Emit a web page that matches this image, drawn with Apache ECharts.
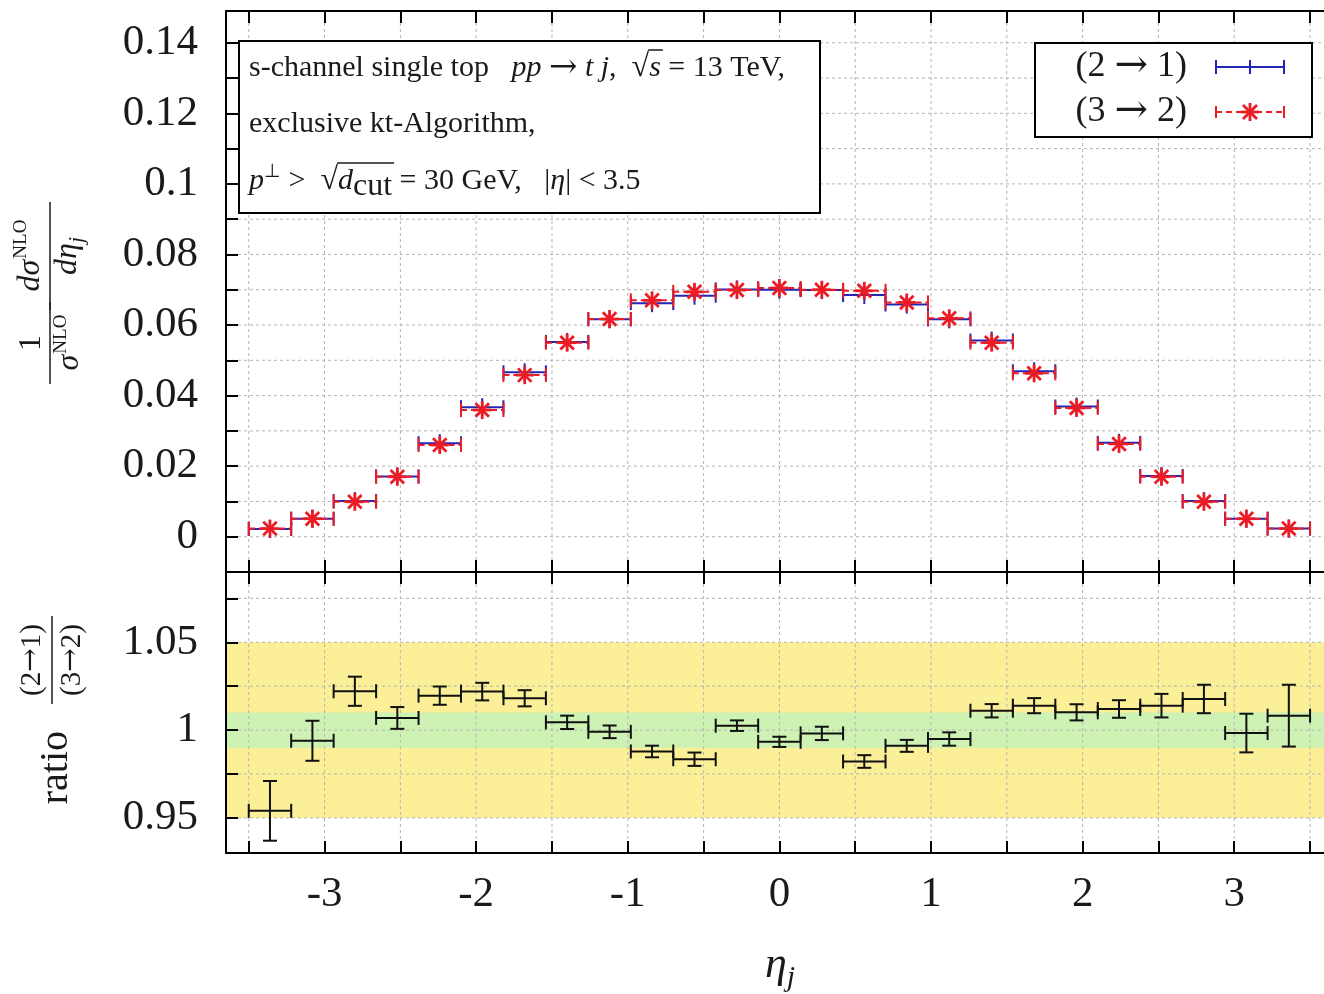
<!DOCTYPE html>
<html><head><meta charset="utf-8">
<script src="https://cdn.jsdelivr.net/npm/echarts@6/dist/echarts.min.js"></script>
<style>html,body{margin:0;padding:0;background:#fff}#c{width:1324px;height:994px}</style>
</head><body><div id="c"></div><script>
// ---------- data ----------
const binEdges = [-3.5, -3.22, -2.94, -2.66, -2.38, -2.1, -1.82, -1.54, -1.26, -0.98, -0.7, -0.42, -0.14,
  0.14, 0.42, 0.7, 0.98, 1.26, 1.54, 1.82, 2.1, 2.38, 2.66, 2.94, 3.22, 3.5];
// (2 -> 1) normalised distribution (blue)
const dist21 = [0.0022, 0.0051, 0.0101, 0.0171, 0.0265, 0.0367, 0.0466, 0.0552, 0.0616, 0.0662, 0.0683, 0.0701, 0.0700,
  0.0699, 0.0685, 0.0658, 0.0616, 0.0556, 0.0469, 0.0369, 0.0266, 0.0172, 0.0101, 0.0051, 0.0023];
// (3 -> 2) normalised distribution (red)
const dist32 = [0.0023, 0.0051, 0.0099, 0.0170, 0.0260, 0.0359, 0.0458, 0.0550, 0.0617, 0.0670, 0.0694, 0.0699, 0.0705,
  0.0700, 0.0697, 0.0664, 0.0619, 0.0550, 0.0463, 0.0365, 0.0263, 0.0170, 0.0099, 0.0051, 0.0023];
const ratio = [0.954, 0.9939, 1.0221, 1.0069, 1.0196, 1.0219, 1.0181, 1.0044, 0.999, 0.9878, 0.9834, 1.0025, 0.9933,
  0.9981, 0.9821, 0.991, 0.9949, 1.011, 1.0139, 1.0101, 1.012, 1.0139, 1.0177, 0.9983, 1.0082];
const ratioErr = [0.017, 0.0114, 0.0083, 0.0062, 0.0052, 0.005, 0.0046, 0.0038, 0.0036, 0.0033, 0.0038, 0.003, 0.0029,
  0.0038, 0.0036, 0.0034, 0.0038, 0.0038, 0.0043, 0.0046, 0.005, 0.0067, 0.0081, 0.011, 0.0176];
const bandLo = [0.95, 0.99];
const bandHi = [1.05, 1.01];
const xTicks = [-3.5, -3, -2.5, -2, -1.5, -1, -0.5, 0, 0.5, 1, 1.5, 2, 2.5, 3, 3.5];
const xLabels = [-3, -2, -1, 0, 1, 2, 3];
const yTopTicks = [0, 0.01, 0.02, 0.03, 0.04, 0.05, 0.06, 0.07, 0.08, 0.09, 0.1, 0.11, 0.12, 0.13, 0.14];
const yTopLabels = [0, 0.02, 0.04, 0.06, 0.08, 0.1, 0.12, 0.14];
const yBotTicks = [0.95, 0.975, 1, 1.025, 1.05, 1.075];
const yBotLabels = [0.95, 1, 1.05];
const xRange = [-3.65, 3.592];
const yTopRange = [-0.01, 0.149];
const yBotRange = [0.93, 1.09];

// ---------- helpers ----------
const FONT = 'Liberation Serif';
const AFONT = 'DejaVu Serif';
const TXT = '#1a1a1a';
const BLUE = '#2626b4';
const RED = '#ec1c24';
const mctx = document.createElement('canvas').getContext('2d');
function tw(t, size, it, fam) { mctx.font = (it ? 'italic' : 'normal') + ' normal ' + size + 'px ' + (fam || FONT); return mctx.measureText(t).width; }
function txt(x, y, t, size, it, align, fam) {
  return { type: 'text', x: x, y: y, z: 101,
    style: { text: t, fontFamily: fam || FONT, fontSize: size, fontStyle: it ? 'italic' : 'normal', fill: TXT,
      textAlign: align || 'left', align: align || 'left', textVerticalAlign: 'middle', verticalAlign: 'middle' } };
}
function ln(x1, y1, x2, y2, color, w, dash) {
  return { type: 'line', z: 101, shape: { x1: x1, y1: y1, x2: x2, y2: y2 }, style: { stroke: color, lineWidth: w, lineDash: dash || null } };
}
function segWidth(segs, defSize) {
  return segs.reduce((a, s) => a + tw(s.t, s.size || defSize, s.it, s.fam), 0);
}
function layoutLine(x0, yc, segs, defSize) {
  defSize = defSize || 30;
  const els = []; const pos = {}; let x = x0;
  segs.forEach(s => {
    const size = s.size || defSize;
    els.push(txt(x, yc + (s.dy || 0), s.t, size, s.it, 'left', s.fam));
    const w = tw(s.t, size, s.it, s.fam);
    if (s.key) pos[s.key] = [x, x + w];
    x += w;
  });
  return { els, pos, end: x };
}

const binRows = (vals) => vals.map((v, i) => [binEdges[i], binEdges[i + 1], v]);
const ratioRows = ratio.map((v, i) => [binEdges[i], binEdges[i + 1], v, ratioErr[i]]);

function upperRender(color, dashed, marker) {
  return function (params, api) {
    const lo = api.value(0), hi = api.value(1), v = api.value(2);
    const p0 = api.coord([lo, v]), p1 = api.coord([hi, v]), pc = api.coord([(lo + hi) / 2, v]);
    const st = { stroke: color, lineWidth: 2 };
    const ch = [
      { type: 'line', shape: { x1: p0[0], y1: p0[1], x2: p1[0], y2: p1[1] }, style: Object.assign({}, st, { lineDash: dashed ? [6, 4] : null }) },
      { type: 'line', shape: { x1: p0[0], y1: p0[1] - 7, x2: p0[0], y2: p0[1] + 7 }, style: st },
      { type: 'line', shape: { x1: p1[0], y1: p1[1] - 7, x2: p1[0], y2: p1[1] + 7 }, style: st }
    ];
    const r = 9;
    if (marker === 'plus') {
      ch.push({ type: 'line', shape: { x1: pc[0], y1: pc[1] - r, x2: pc[0], y2: pc[1] + r }, style: st });
    } else {
      const s2 = { stroke: color, lineWidth: 2.8 };
      const d = r * 0.75;
      ch.push({ type: 'line', shape: { x1: pc[0], y1: pc[1] - r, x2: pc[0], y2: pc[1] + r }, style: s2 });
      ch.push({ type: 'line', shape: { x1: pc[0] - r, y1: pc[1], x2: pc[0] + r, y2: pc[1] }, style: s2 });
      ch.push({ type: 'line', shape: { x1: pc[0] - d, y1: pc[1] - d, x2: pc[0] + d, y2: pc[1] + d }, style: s2 });
      ch.push({ type: 'line', shape: { x1: pc[0] - d, y1: pc[1] + d, x2: pc[0] + d, y2: pc[1] - d }, style: s2 });
    }
    return { type: 'group', children: ch };
  };
}
function ratioRender(params, api) {
  const lo = api.value(0), hi = api.value(1), v = api.value(2), e = api.value(3);
  const xc = (lo + hi) / 2;
  const p0 = api.coord([lo, v]), p1 = api.coord([hi, v]);
  const pt = api.coord([xc, v + e]), pb = api.coord([xc, v - e]);
  const st = { stroke: '#111', lineWidth: 2 };
  return { type: 'group', children: [
    { type: 'line', shape: { x1: p0[0], y1: p0[1], x2: p1[0], y2: p1[1] }, style: st },
    { type: 'line', shape: { x1: p0[0], y1: p0[1] - 7, x2: p0[0], y2: p0[1] + 7 }, style: st },
    { type: 'line', shape: { x1: p1[0], y1: p1[1] - 7, x2: p1[0], y2: p1[1] + 7 }, style: st },
    { type: 'line', shape: { x1: pt[0], y1: pt[1], x2: pb[0], y2: pb[1] }, style: st },
    { type: 'line', shape: { x1: pt[0] - 7, y1: pt[1], x2: pt[0] + 7, y2: pt[1] }, style: st },
    { type: 'line', shape: { x1: pb[0] - 7, y1: pb[1], x2: pb[0] + 7, y2: pb[1] }, style: st }
  ] };
}
const GRID_STYLE = { stroke: '#b4b4b4', lineWidth: 1, lineDash: [3, 3] };
function vGridRender(params, api) {
  const cs = params.coordSys;
  const x = api.coord([api.value(0), api.value(1)])[0];
  return { type: 'line', shape: { x1: x, y1: cs.y, x2: x, y2: cs.y + cs.height }, style: GRID_STYLE };
}
function hGridRender(params, api) {
  const cs = params.coordSys;
  const y = api.coord([api.value(0), api.value(1)])[1];
  return { type: 'line', shape: { x1: cs.x, y1: y, x2: cs.x + cs.width, y2: y }, style: GRID_STYLE };
}
function bandRender(params, api) {
  const a = api.coord([api.value(0), api.value(3)]);
  const b = api.coord([api.value(1), api.value(2)]);
  return { type: 'rect', shape: { x: a[0], y: a[1], width: b[0] - a[0], height: b[1] - a[1] },
    style: { fill: params.dataIndex === 0 ? '#fbef98' : '#cdf2b4' } };
}

// ---------- axes ----------
const frameLine = { show: true, onZero: false, lineStyle: { color: '#000', width: 2 } };
function xAx(grid, pos, labels) {
  return { type: 'value', gridIndex: grid, position: pos, min: xRange[0], max: xRange[1], z: 10,
    axisLine: frameLine,
    axisTick: { show: true, inside: true, length: 12, customValues: xTicks, lineStyle: { color: '#000', width: 2 } },
    axisLabel: labels ? { show: true, customValues: xLabels, fontFamily: FONT, fontSize: 43, color: TXT, margin: 20 } : { show: false },
    splitLine: { show: false } };
}
function yAx(grid, range, ticks, labels) {
  return { type: 'value', gridIndex: grid, position: 'left', min: range[0], max: range[1], z: 10,
    axisLine: frameLine,
    axisTick: { show: true, inside: true, length: 12, customValues: ticks, lineStyle: { color: '#000', width: 2 } },
    axisLabel: { show: true, customValues: labels, fontFamily: FONT, fontSize: 43, color: TXT, margin: 28 },
    splitLine: { show: false } };
}

// ---------- graphic (boxes, texts, titles) ----------
const ARROW = '\u2192';
const g = [];
g.push({ type: 'rect', z: 100, shape: { x: 239, y: 41, width: 581, height: 172 }, style: { fill: '#fff', stroke: '#000', lineWidth: 2 } });
g.push({ type: 'rect', z: 100, shape: { x: 1035, y: 43, width: 277, height: 94 }, style: { fill: '#fff', stroke: '#000', lineWidth: 2 } });
// annotation lines
const L1 = layoutLine(249, 68, [
  { t: 's-channel single top   ' }, { t: 'pp', it: true }, { t: ' ' }, { t: ARROW, fam: AFONT, size: 34 }, { t: ' ' },
  { t: 't j', it: true }, { t: ',  ' },
  { t: '\u221A', key: 'rad', size: 32 }, { t: 's', it: true, key: 's' }, { t: ' = 13 TeV,' }]);
g.push(...L1.els);
g.push(ln(L1.pos.rad[1] - 1, 50, L1.pos.s[1] + 2, 50, TXT, 1.5));
const L2 = layoutLine(249, 124, [{ t: 'exclusive kt-Algorithm,' }]);
g.push(...L2.els);
const L3 = layoutLine(249, 181, [
  { t: 'p', it: true }, { t: '\u22A5', size: 19, dy: -9 }, { t: ' >  ' }, { t: '\u221A', key: 'rad', size: 32 },
  { t: 'd', it: true, key: 'd' }, { t: 'cut', size: 32, dy: 6, key: 'cut' }, { t: ' = 30 GeV,   |' },
  { t: '\u03B7', it: true }, { t: '| < 3.5' }]);
g.push(...L3.els);
g.push(ln(L3.pos.rad[1] - 1, 163, L3.pos.cut[1] + 2, 163, TXT, 1.5));
// legend
function legendLabel(a, b, y) {
  const segs = [{ t: '(' + a + ' ' }, { t: ARROW, fam: AFONT, size: 40 }, { t: ' ' + b + ')' }];
  const w = segWidth(segs, 36);
  g.push(...layoutLine(1187 - w, y, segs, 36).els);
}
legendLabel('2', '1', 67);
legendLabel('3', '2', 112);
g.push(ln(1216, 67, 1284, 67, BLUE, 2));
g.push(ln(1216, 60, 1216, 74, BLUE, 2));
g.push(ln(1284, 60, 1284, 74, BLUE, 2));
g.push(ln(1250, 60, 1250, 74, BLUE, 2));
g.push(ln(1216, 112, 1284, 112, RED, 2, [6, 4]));
g.push(ln(1216, 106, 1216, 118, RED, 2));
g.push(ln(1284, 106, 1284, 118, RED, 2));
g.push(ln(1250, 103, 1250, 121, RED, 2.8));
g.push(ln(1241, 112, 1259, 112, RED, 2.8));
g.push(ln(1243, 105, 1257, 119, RED, 2.8));
g.push(ln(1243, 119, 1257, 105, RED, 2.8));
// upper y title (rotated group)
(function () {
  const ch = [];
  const S = 32, SS = 19;
  ch.push(txt(-51, -18, '1', S, false, 'center'));
  ch.push(ln(-92, 0, -10, 0, TXT, 1.5));
  let w1 = tw('\u03C3', S, true), w2 = tw('NLO', SS, false), x0 = -51 - (w1 + w2) / 2;
  ch.push(txt(x0, 20, '\u03C3', S, true));
  ch.push(txt(x0 + w1 + 1, 11, 'NLO', SS, false));
  w1 = tw('d\u03C3', S, true); x0 = 36 - (w1 + w2) / 2;
  ch.push(txt(x0, -19, 'd\u03C3', S, true));
  ch.push(txt(x0 + w1 + 1, -29, 'NLO', SS, false));
  ch.push(ln(-18, 0, 90, 0, TXT, 1.5));
  w1 = tw('d\u03B7', S, true); w2 = tw('j', 22, true); x0 = 36 - (w1 + w2) / 2;
  ch.push(txt(x0, 18, 'd\u03B7', S, true));
  ch.push(txt(x0 + w1, 27, 'j', 22, true));
  g.push({ type: 'group', x: 50, y: 292, rotation: Math.PI / 2, z: 101, children: ch });
})();
// lower y title
(function () {
  const ch = [];
  ch.push(txt(-1, 4, 'ratio', 40, false, 'right'));
  function frac(a, b, v) {
    const segs = [{ t: '(' + a }, { t: ARROW, fam: AFONT, size: 28 }, { t: b + ')' }];
    const w = segWidth(segs, 29);
    ch.push(...layoutLine(70 - w / 2, v, segs, 29).els);
  }
  frac('2', '1', -20);
  ch.push(ln(26, 0, 114, 0, TXT, 1.5));
  frac('3', '2', 20);
  g.push({ type: 'group', x: 52, y: 730, rotation: Math.PI / 2, z: 101, children: ch });
})();
// x axis title eta_j
(function () {
  const w1 = tw('\u03B7', 44, true), w2 = tw('j', 30, true);
  const x0 = 780 - (w1 + w2) / 2;
  g.push(txt(x0, 965, '\u03B7', 44, true));
  g.push(txt(x0 + w1, 978, 'j', 30, true));
})();

// ---------- chart ----------
const chart = echarts.init(document.getElementById('c'), null, { renderer: 'canvas' });
chart.setOption({
  backgroundColor: '#fff',
  animation: false,
  grid: [
    { left: 226, top: 11, right: 0, height: 561, containLabel: false },
    { left: 226, top: 572, right: 0, height: 281, containLabel: false }
  ],
  xAxis: [xAx(0, 'bottom', false), xAx(0, 'top', false), xAx(1, 'bottom', true), xAx(1, 'top', false)],
  yAxis: [yAx(0, yTopRange, yTopTicks, yTopLabels), yAx(1, yBotRange, yBotTicks, yBotLabels)],
  series: [
    { type: 'custom', xAxisIndex: 2, yAxisIndex: 1, z: 1, silent: true, renderItem: bandRender,
      data: bandLo.map((lo, i) => [xRange[0], xRange[1], lo, bandHi[i]]) },
    { type: 'custom', xAxisIndex: 0, yAxisIndex: 0, z: 2, silent: true, renderItem: vGridRender, data: xTicks.map(v => [v, 0]) },
    { type: 'custom', xAxisIndex: 0, yAxisIndex: 0, z: 2, silent: true, renderItem: hGridRender, data: yTopTicks.map(v => [0, v]) },
    { type: 'custom', xAxisIndex: 2, yAxisIndex: 1, z: 2, silent: true, renderItem: vGridRender, data: xTicks.map(v => [v, 1]) },
    { type: 'custom', xAxisIndex: 2, yAxisIndex: 1, z: 2, silent: true, renderItem: hGridRender, data: yBotTicks.map(v => [0, v]) },
    { type: 'custom', name: '(2 \u2192 1)', xAxisIndex: 0, yAxisIndex: 0, z: 3, renderItem: upperRender(BLUE, false, 'plus'),
      encode: { x: [0, 1], y: 2 }, data: binRows(dist21) },
    { type: 'custom', name: '(3 \u2192 2)', xAxisIndex: 0, yAxisIndex: 0, z: 4, renderItem: upperRender(RED, true, 'star'),
      encode: { x: [0, 1], y: 2 }, data: binRows(dist32) },
    { type: 'custom', name: 'ratio', xAxisIndex: 2, yAxisIndex: 1, z: 3, renderItem: ratioRender,
      encode: { x: [0, 1], y: 2 }, data: ratioRows }
  ],
  graphic: { elements: g }
});
</script></body></html>
